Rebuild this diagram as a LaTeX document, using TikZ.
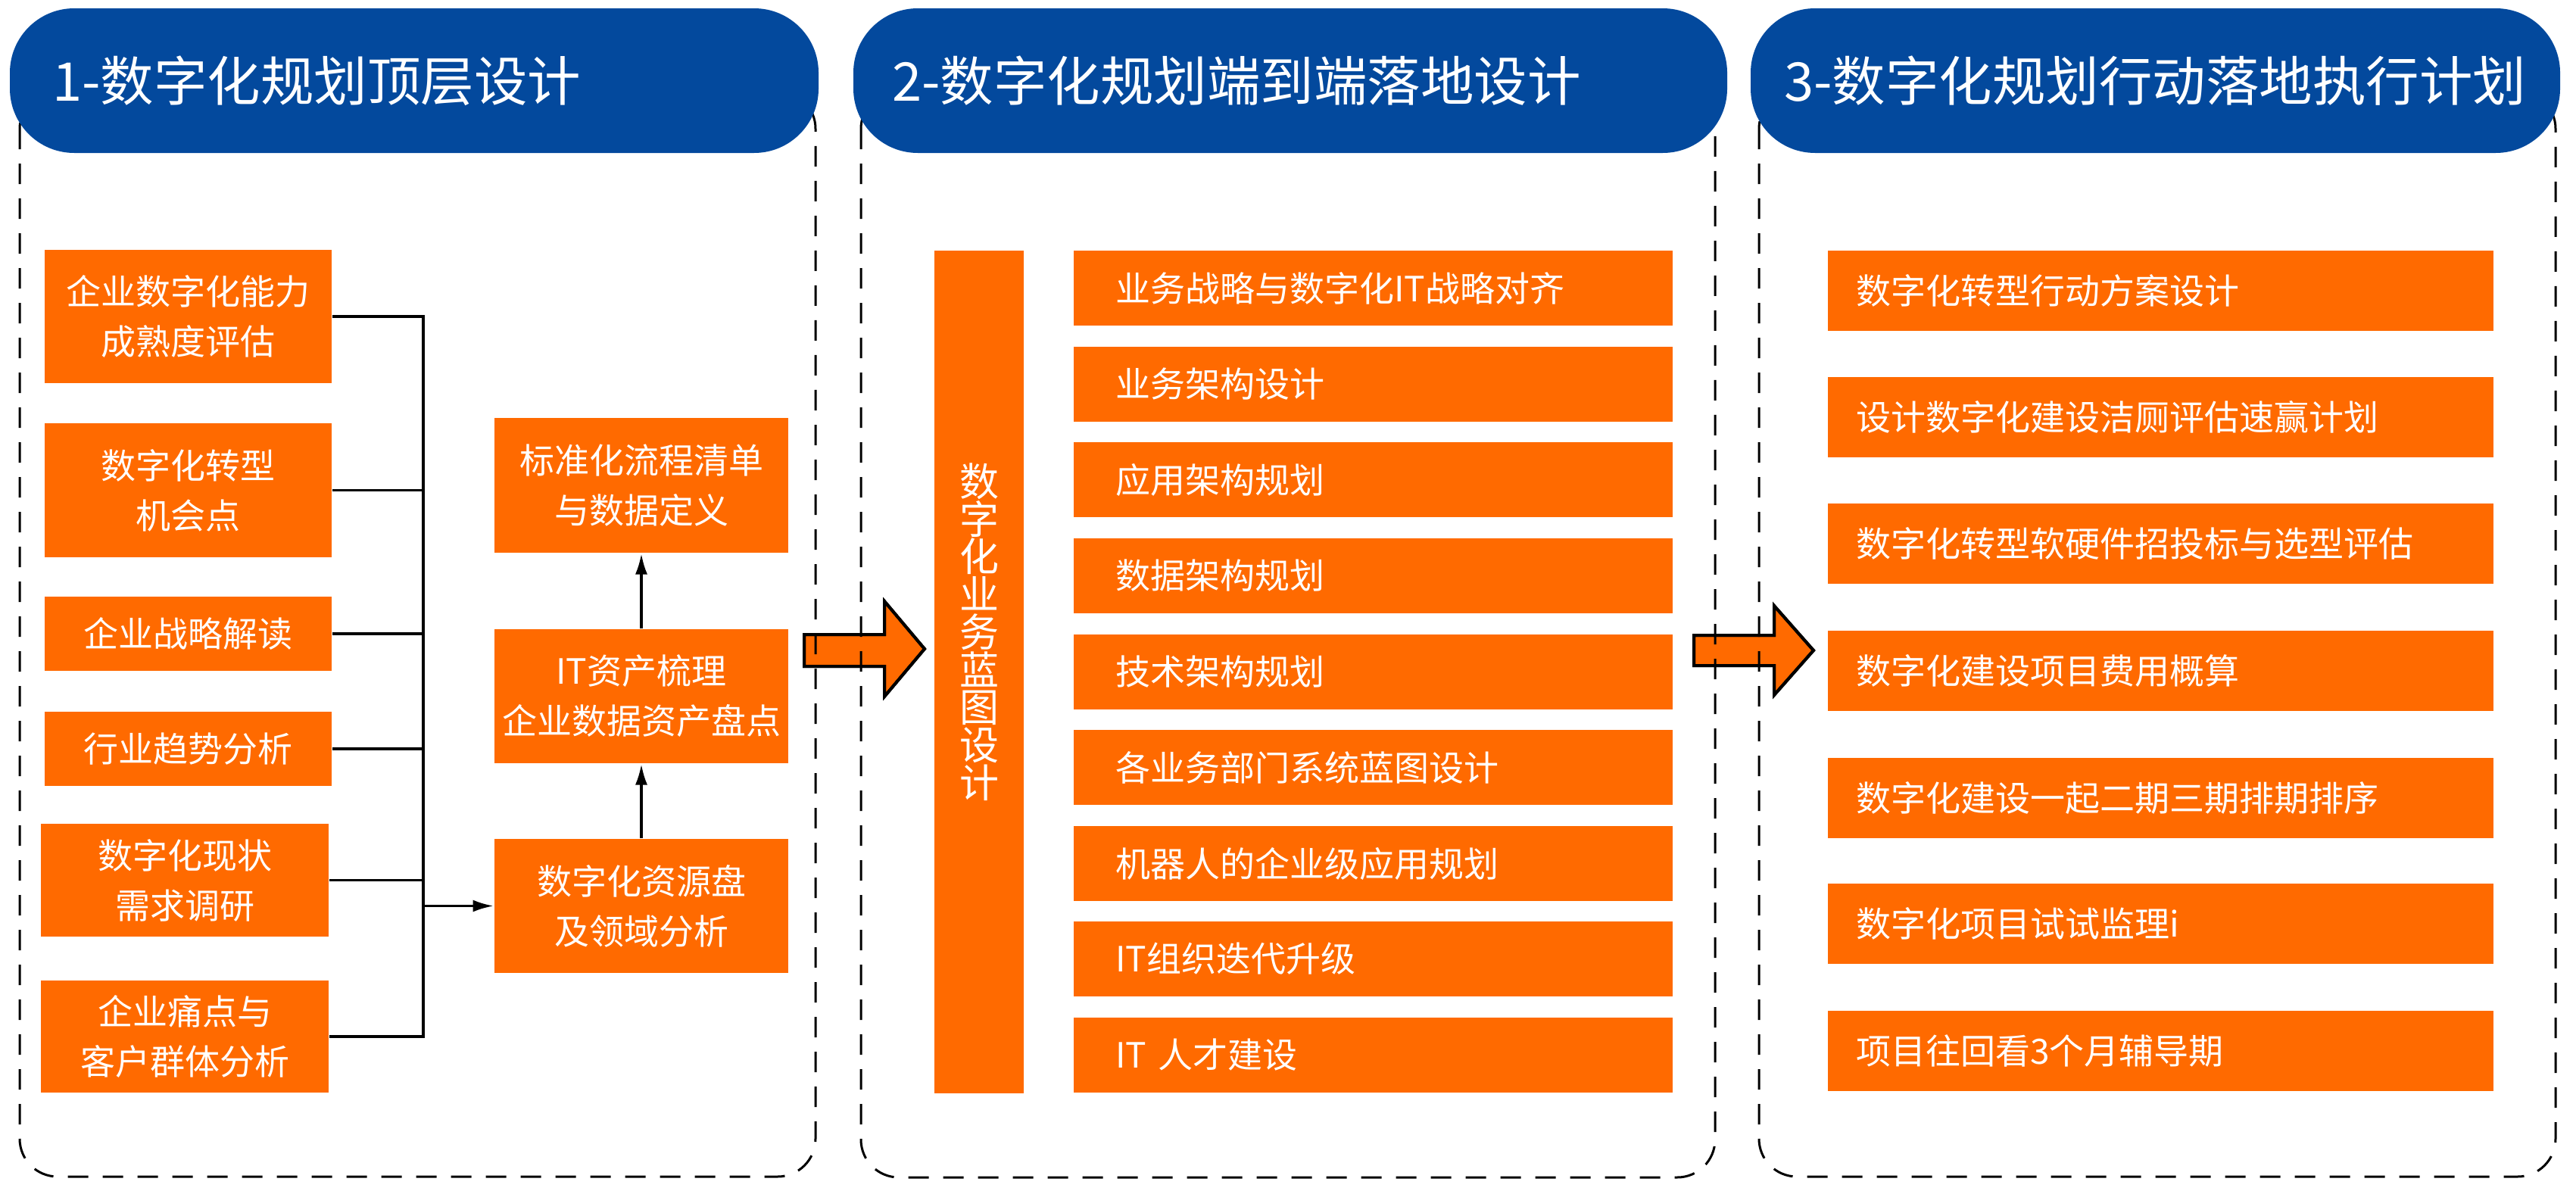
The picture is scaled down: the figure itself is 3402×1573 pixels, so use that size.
\documentclass[tikz,border=0pt]{standalone}
\usepackage{fontspec}
\setmainfont{Noto Sans CJK SC}
\usetikzlibrary{arrows.meta}
\definecolor{hblue}{RGB}{3,73,157}
\definecolor{oran}{RGB}{255,106,0}
\tikzset{
  hdr/.style={fill=hblue, draw=none, rounded corners=17pt, anchor=north west, minimum height=38.2pt, inner sep=0pt},
  htitle/.style={text=white, anchor=west, inner sep=0pt, font=\fontsize{14.1pt}{16pt}\selectfont},
  frame/.style={draw=black, line width=0.6pt, dash pattern=on 5.4pt off 3.8pt, rounded corners=10pt},
  ob/.style={fill=oran, draw=none, text=white, inner sep=0pt, anchor=north west, align=center, font=\fontsize{9.2pt}{13.2pt}\selectfont},
  litwo/.style={fill=oran, draw=none, text=white, anchor=north west, inner ysep=0pt, inner xsep=11pt, text width=136.2pt, minimum height=19.8pt, align=left, font=\fontsize{9.2pt}{11pt}\selectfont},
  lithree/.style={fill=oran, draw=none, text=white, anchor=north west, inner ysep=0pt, inner xsep=7.4pt, text width=161pt, minimum height=21.2pt, align=left, font=\fontsize{9.2pt}{11pt}\selectfont},
  vt/.style={text=white, inner sep=0pt, align=center, font=\fontsize{10.4pt}{9.94pt}\selectfont},
  conn/.style={draw=black, line width=0.7pt},
  arr/.style={conn, -{Latex[length=5.5pt,width=3.2pt]}},
  blockarr/.style={fill=oran, draw=black, line width=0.8pt, line join=miter}
}
\begin{document}
\begin{tikzpicture}[x=0.2pt,y=-0.2pt]
\useasboundingbox (0,0) rectangle (3402,1573);
% block arrows (behind frames)
\fill[blockarr] (1062,838) -- (1168,838) -- (1168,794) -- (1221,857) -- (1168,920) -- (1168,880) -- (1062,880) -- cycle;
\fill[blockarr] (2237,839) -- (2343,839) -- (2343,800) -- (2395,859) -- (2343,918) -- (2343,879) -- (2237,879) -- cycle;
\draw[blockarr, fill=none] (1062,838) -- (1168,838) -- (1168,794) -- (1221,857) -- (1168,920) -- (1168,880) -- (1062,880) -- cycle;
\draw[blockarr, fill=none] (2237,839) -- (2343,839) -- (2343,800) -- (2395,859) -- (2343,918) -- (2343,879) -- (2237,879) -- cycle;
% dashed frames
\draw[frame] (26,120) rectangle (1077,1554);
\draw[frame] (1137,120) rectangle (2265,1555);
\draw[frame] (2323,120) rectangle (3375,1554);
% headers
\node[hdr, minimum width=213.6pt] (h1) at (12,10) {};
\node[hdr, minimum width=230.8pt] (h2) at (1126,10) {};
\node[hdr, minimum width=213.8pt] (h3) at (2311,10) {};
\node[htitle] (h1t) at ([xshift=11.2pt]h1.west) {1-数字化规划顶层设计};
\node[htitle] (h2t) at ([xshift=10.2pt]h2.west) {2-数字化规划端到端落地设计};
\node[htitle] (h3t) at ([xshift=8.8pt]h3.west) {3-数字化规划行动落地执行计划};
% section 1
\node[ob, minimum width=75.8pt, minimum height=35.2pt] (b1) at (58,329) {企业数字化能力\\成熟度评估};
\node[ob, minimum width=75.8pt, minimum height=35.4pt] (b2) at (58,558) {数字化转型\\机会点};
\node[ob, minimum width=75.8pt, minimum height=19.6pt] (b3) at (58,787) {企业战略解读};
\node[ob, minimum width=75.8pt, minimum height=19.6pt] (b4) at (58,939) {行业趋势分析};
\node[ob, minimum width=76pt, minimum height=29.8pt] (b5) at (53,1087) {数字化现状\\需求调研};
\node[ob, minimum width=76pt, minimum height=29.6pt] (b6) at (53,1294) {企业痛点与\\客户群体分析};
\node[ob, minimum width=77.6pt, minimum height=35.6pt] (r1) at (652,551) {标准化流程清单\\与数据定义};
\node[ob, minimum width=77.6pt, minimum height=35.4pt] (r2) at (652,830) {IT资产梳理\\企业数据资产盘点};
\node[ob, minimum width=77.6pt, minimum height=35.4pt] (r3) at (652,1107) {数字化资源盘\\及领域分析};
\coordinate (busx) at (559,0);
\draw[conn] (b1.east) -| (b6.east -| busx) -- (b6.east);
\draw[conn] (b2.east) -- (b2.east -| busx);
\draw[conn] (b3.east) -- (b3.east -| busx);
\draw[conn] (b4.east) -- (b4.east -| busx);
\draw[conn] (b5.east) -- (b5.east -| busx);
\draw[arr] (r3.west -| busx) -- (r3.west);
\draw[arr] (r3.north) -- (r2.south);
\draw[arr] (r2.north) -- (r1.south);
% section 2
\node[ob, minimum width=23.6pt, minimum height=222.6pt] (tall) at (1233,330) {};
\node[vt, yshift=10.6pt] (tallt) at (tall.center) {数\\字\\化\\业\\务\\蓝\\图\\设\\计};
\node[litwo] (s1) at (1417,330) {业务战略与数字化IT战略对齐};
\node[litwo] (s2) at (1417,457) {业务架构设计};
\node[litwo] (s3) at (1417,583) {应用架构规划};
\node[litwo] (s4) at (1417,710) {数据架构规划};
\node[litwo] (s5) at (1417,837) {技术架构规划};
\node[litwo] (s6) at (1417,963) {各业务部门系统蓝图设计};
\node[litwo] (s7) at (1417,1090) {机器人的企业级应用规划};
\node[litwo] (s8) at (1417,1216) {IT组织迭代升级};
\node[litwo] (s9) at (1417,1343) {IT 人才建设};
% section 3
\node[lithree] (t1) at (2413,330) {数字化转型行动方案设计};
\node[lithree] (t2) at (2413,497) {设计数字化建设洁厕评估速赢计划};
\node[lithree] (t3) at (2413,664) {数字化转型软硬件招投标与选型评估};
\node[lithree] (t4) at (2413,832) {数字化建设项目费用概算};
\node[lithree] (t5) at (2413,1000) {数字化建设一起二期三期排期排序};
\node[lithree] (t6) at (2413,1166) {数字化项目试试监理i};
\node[lithree] (t7) at (2413,1334) {项目往回看3个月辅导期};
\end{tikzpicture}
\end{document}
